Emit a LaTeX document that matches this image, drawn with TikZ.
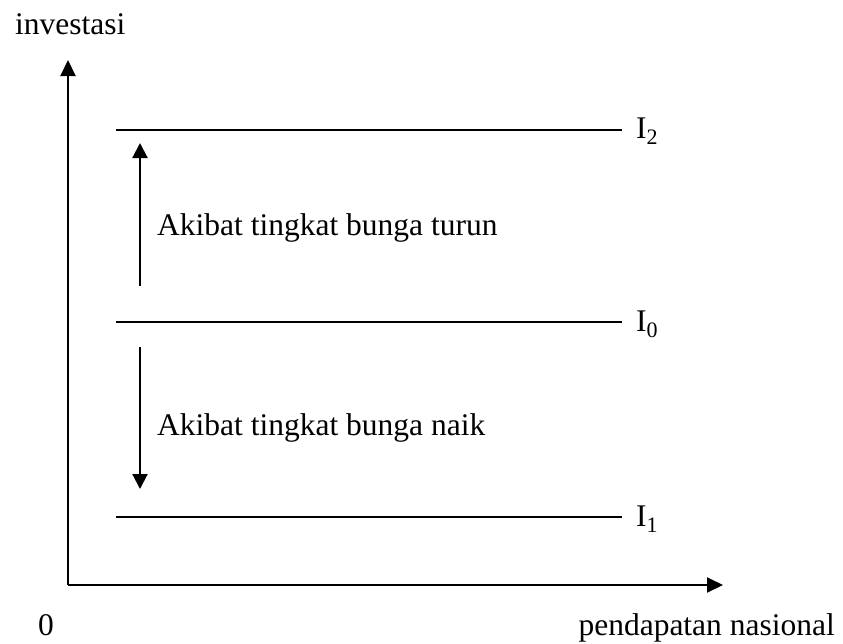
\documentclass[tikz,border=0pt]{standalone}
\usepackage{fontspec}
\setmainfont{Liberation Serif}
\usetikzlibrary{arrows.meta}
\begin{document}
\begin{tikzpicture}[x=1pt,y=-1pt,
  every node/.style={font=\fontsize{31.5}{38}\selectfont, inner sep=0pt},
  axis/.style={line width=2pt, -{Triangle[width=15pt,length=16pt]}},
  level/.style={line width=1.6pt},
  movearrow/.style={line width=2pt, -{Triangle[width=15pt,length=15pt]}}]
\useasboundingbox (0,0) rectangle (843,643);
% axes
\coordinate (o) at (68,585);
\coordinate (ytop) at (68,60);
\coordinate (xend) at (723,585);
\draw[axis] (o) -- (ytop);
\draw[axis] (o) -- (xend);
% investment levels
\node[anchor=west] (i2) at (636,131) {I\textsubscript{2}};
\node[anchor=west] (i0) at (636,324) {I\textsubscript{0}};
\node[anchor=west] (i1) at (636,519) {I\textsubscript{1}};
\coordinate (a2) at (116,130);
\coordinate (a0) at (116,322);
\coordinate (a1) at (116,517);
\draw[level] (a2) -- (622,130);
\draw[level] (a0) -- (622,322);
\draw[level] (a1) -- (622,517);
% shifts
\coordinate (u0) at (140,286);
\coordinate (u1) at (140,143);
\coordinate (d0) at (140,347);
\coordinate (d1) at (140,489);
\draw[movearrow] (u0) -- (u1);
\draw[movearrow] (d0) -- (d1);
\node[anchor=base west] (turun) at (157,235) {Akibat tingkat bunga turun};
\node[anchor=base west] (naik) at (157,435) {Akibat tingkat bunga naik};
% axis labels
\node[anchor=base west] (ylab) at (15,34) {investasi};
\node[anchor=base west] (zero) at (38,635) {0};
\node[anchor=base east] (xlab) at (835,635) {pendapatan nasional};
\end{tikzpicture}
\end{document}
